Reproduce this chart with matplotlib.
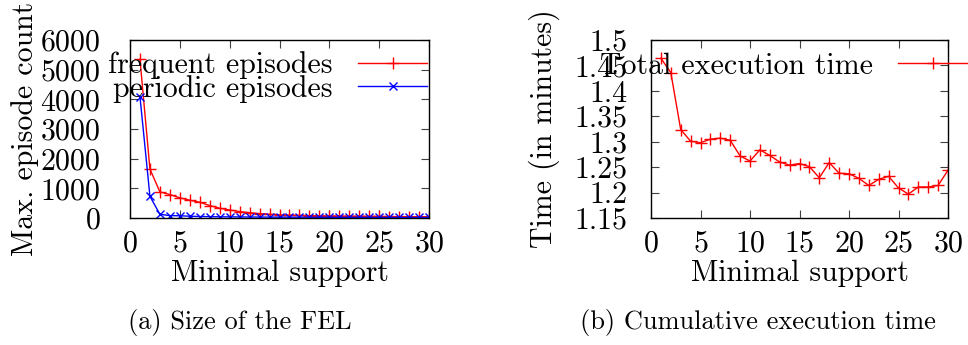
import numpy as np
import matplotlib
matplotlib.use("Agg")
from matplotlib import pyplot as plt
from matplotlib.ticker import FuncFormatter

plt.rcParams['font.family'] = ['cmr10', 'DejaVu Serif']
plt.rcParams['mathtext.fontset'] = 'cm'
plt.rcParams['axes.formatter.use_mathtext'] = True

# Minimal support values (x axis of both panels)
support = list(range(1, 31))

# (a) Size of the FEL
frequent = [5350, 1650, 880, 790, 680, 600, 530, 420, 330, 270,
            215, 180, 148, 125, 105, 95, 85, 80, 75, 70,
            66, 62, 58, 55, 52, 50, 48, 46, 44, 42]
periodic = [4090, 730, 125, 80, 75, 60, 50, 45, 40, 38,
            36, 34, 32, 30, 29, 28, 27, 26, 25, 24,
            23, 22, 21, 20, 20, 19, 18, 18, 17, 17]

# (b) Cumulative execution time (minutes)
exec_time = [1.464, 1.436, 1.324, 1.301, 1.298, 1.305, 1.307, 1.303, 1.272, 1.262,
             1.284, 1.273, 1.260, 1.254, 1.257, 1.251, 1.229, 1.259, 1.238, 1.237,
             1.228, 1.214, 1.226, 1.232, 1.209, 1.197, 1.211, 1.211, 1.214, 1.244]

fs = 21.5

fig = plt.figure(figsize=(9.68, 3.45), dpi=100)
ax1 = fig.add_axes([130/968, 1-218/345, 299/968, 178/345])
ax2 = fig.add_axes([651/968, 1-218/345, 297/968, 178/345])


# Common gnuplot-like axis styling
def style_axis(ax, ypad):
    ax.tick_params(direction='in', top=True, right=True, length=6, width=0.8,
                   color='#404040', labelsize=fs)
    ax.tick_params(axis='y', pad=ypad)
    ax.tick_params(axis='x', pad=8.5)
    ax.set_xlim(0, 30)
    ax.set_xticks(np.arange(0, 31, 5))
    ax.set_xlabel('Minimal support', fontsize=fs, labelpad=2)
    for s in ax.spines.values():
        s.set_linewidth(1.0)


# Panel (a)
ax1.plot(support, frequent, color='red', marker='+', markersize=9,
         markeredgewidth=1.0, linewidth=1.0, label='frequent episodes')
ax1.plot(support, periodic, color='blue', marker='x', markersize=6,
         markeredgewidth=1.0, linewidth=1.0, label='periodic episodes')
ax1.set_ylim(0, 6000)
ax1.set_yticks(np.arange(0, 6001, 1000))
style_axis(ax1, 21)
ax1.set_ylabel('Max. episode count', fontsize=fs, labelpad=1)
ax1.legend(loc='upper right', bbox_to_anchor=(0.993, 0.935), frameon=False,
           markerfirst=False, fontsize=fs, handlelength=2.3, handletextpad=0.85,
           labelspacing=-0.15, borderpad=0, borderaxespad=0)

# Panel (b)
ax2.plot(support, exec_time, color='red', marker='+', markersize=9,
         markeredgewidth=1.0, linewidth=1.0, label='Total execution time')
ax2.set_ylim(1.15, 1.5)
ax2.set_yticks(np.arange(1.15, 1.5001, 0.05))
ax2.yaxis.set_major_formatter(FuncFormatter(lambda v, p: '%g' % round(v, 2)))
style_axis(ax2, 17)
ax2.set_ylabel('Time (in minutes)', fontsize=fs, labelpad=10)
ax2.legend(loc='upper right', bbox_to_anchor=(1.064, 0.93), frameon=False,
           markerfirst=False, fontsize=fs, handlelength=2.3, handletextpad=0.85,
           borderpad=0, borderaxespad=0)

# Sub-figure captions
fig.text(240/968, 1-323/345, '(a) Size of the FEL', fontsize=19,
         ha='center', va='center')
fig.text(758/968, 1-323/345, '(b) Cumulative execution time', fontsize=19,
         ha='center', va='center')

fig.savefig('out.png', dpi=100)
